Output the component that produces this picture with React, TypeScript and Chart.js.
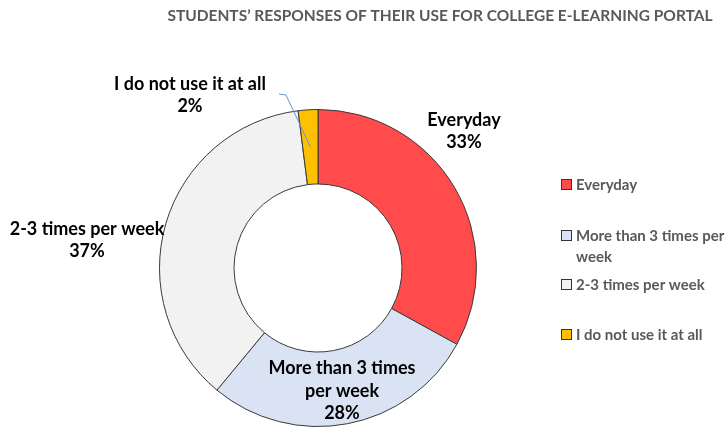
import { useEffect, useRef } from "react";
import { Chart, registerables } from "chart.js";

Chart.register(...registerables);

// ---- data ----
const categories = [
  "Everyday",
  "More than 3 times per week",
  "2-3 times per week",
  "I do not use it at all",
];
const percentages = [33, 28, 37, 2];
const chartTitle = "STUDENTS’ RESPONSES OF THEIR USE FOR COLLEGE E-LEARNING PORTAL";
const legendLines = [
  ["Everyday"],
  ["More than 3 times per", "week"],
  ["2-3 times per week"],
  ["I do not use it at all"],
];
const dataLabelLines = [
  ["Everyday"],
  ["More than 3 times", "per week"],
  ["2-3 times per week"],
  ["I do not use it at all"],
];

// ---- style ----
const sliceColors = ["#FF4B4B", "#DAE3F3", "#F2F2F2", "#FFC000"];
const FONT = "Lato, 'Open Sans', sans-serif";
const TEXT_GREY = "#595959";
// label block centers, relative to the doughnut center
const labelOffsets = [
  [146, -137],
  [24, 123],
  [-231, -28],
  [-128, -173],
];
const legendRows = [185, 236, 285, 335];

const overlayPlugin = {
  id: "overlay",
  afterDraw(chart: any) {
    const ctx = chart.ctx as CanvasRenderingContext2D;
    const meta = chart.getDatasetMeta(0);
    const arcs = meta.data as any[];
    const cx = arcs[0].x;
    const cy = arcs[0].y;
    ctx.save();

    // title
    ctx.fillStyle = TEXT_GREY;
    ctx.font = `bold 15.5px ${FONT}`;
    ctx.textAlign = "center";
    ctx.textBaseline = "middle";
    ctx.fillText(chartTitle, 440, 16);

    // leader line for the small slice
    const small = arcs[3];
    const mid = (small.startAngle + small.endAngle) / 2;
    const mr = (small.innerRadius + small.outerRadius) / 2;
    ctx.strokeStyle = "#5B9BD5";
    ctx.lineWidth = 1;
    ctx.beginPath();
    ctx.moveTo(cx - 39, cy - 174);
    ctx.lineTo(cx - 32, cy - 173);
    ctx.lineTo(cx + Math.cos(mid) * mr, cy + Math.sin(mid) * mr);
    ctx.stroke();

    // data labels
    ctx.fillStyle = "#000";
    ctx.font = `bold 18px ${FONT}`;
    const lh = 22.5;
    percentages.forEach((v, i) => {
      const lines = [...dataLabelLines[i], `${v}%`];
      const bx = cx + labelOffsets[i][0];
      const by = cy + labelOffsets[i][1];
      const top = by - ((lines.length - 1) * lh) / 2;
      lines.forEach((t, j) => ctx.fillText(t, bx, top + j * lh));
    });

    // legend
    ctx.textAlign = "left";
    ctx.font = `bold 15px ${FONT}`;
    categories.forEach((_, i) => {
      const y = legendRows[i];
      ctx.fillStyle = sliceColors[i];
      ctx.fillRect(561.5, y - 5.5, 10, 10);
      ctx.strokeStyle = "#333";
      ctx.lineWidth = 1;
      ctx.strokeRect(561.5, y - 5.5, 10, 10);
      ctx.fillStyle = TEXT_GREY;
      legendLines[i].forEach((t, j) => ctx.fillText(t, 576, y + j * 21));
    });
    ctx.restore();
  },
};

export default function App() {
  const ref = useRef<HTMLCanvasElement>(null);
  useEffect(() => {
    if (!ref.current) return;
    const chart = new Chart(ref.current, {
      type: "doughnut",
      data: {
        labels: categories,
        datasets: [
          {
            data: percentages,
            backgroundColor: sliceColors,
            borderColor: "#3a3a3a",
            borderWidth: 1,
          },
        ],
      },
      options: {
        responsive: false,
        animation: false,
        devicePixelRatio: 1,
        cutout: "53%",
        layout: { padding: { left: 159, right: 251, top: 109, bottom: 6 } },
        plugins: {
          legend: { display: false },
          tooltip: { enabled: false },
          title: { display: false },
        },
      },
      plugins: [overlayPlugin],
    });
    return () => chart.destroy();
  }, []);
  return (
    <div style={{ position: "fixed", left: 0, top: 0, width: 728, height: 433, background: "#fff" }}>
      <canvas ref={ref} width={728} height={433} />
    </div>
  );
}
